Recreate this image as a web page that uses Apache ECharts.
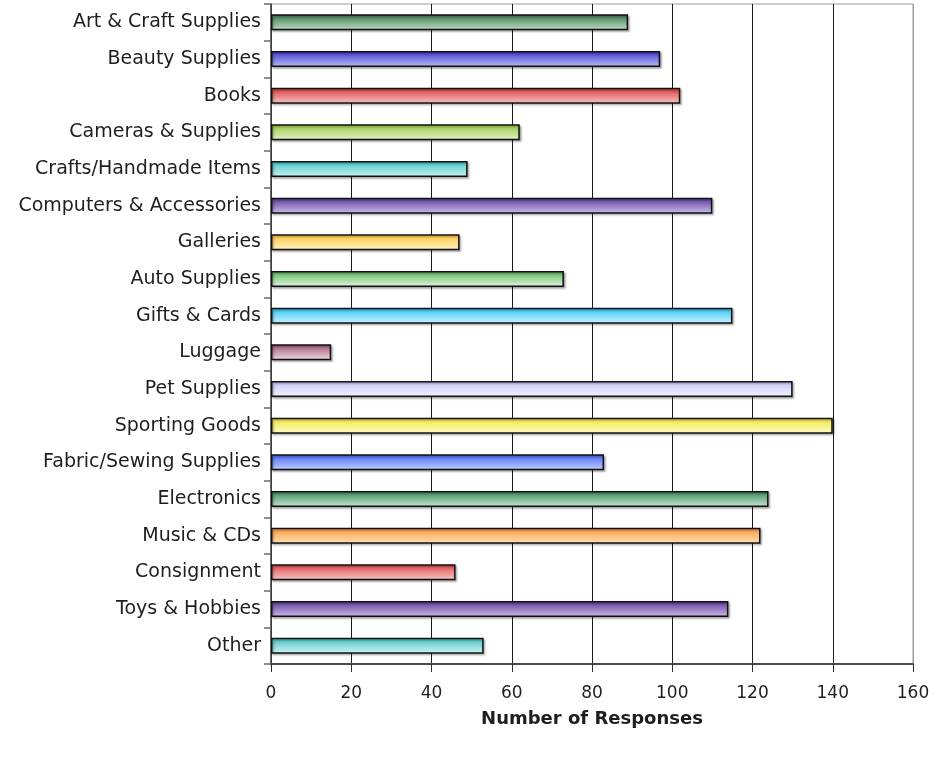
<!DOCTYPE html>
<html>
<head>
<meta charset="utf-8">
<title>Number of Responses by Category</title>
<script src="https://cdn.jsdelivr.net/npm/echarts@6/dist/echarts.min.js"></script>
<style>
  html, body { margin: 0; padding: 0; background: #fff; }
  #chart { width: 949px; height: 759px; }
</style>
</head>
<body>
<div id="chart"></div>
<script>
// Product categories, listed top to bottom
const categories = [
  'Art & Craft Supplies', 'Beauty Supplies', 'Books', 'Cameras & Supplies',
  'Crafts/Handmade Items', 'Computers & Accessories', 'Galleries', 'Auto Supplies',
  'Gifts & Cards', 'Luggage', 'Pet Supplies', 'Sporting Goods',
  'Fabric/Sewing Supplies', 'Electronics', 'Music & CDs', 'Consignment',
  'Toys & Hobbies', 'Other'
];

// Number of responses per category
const responses = [89, 97, 102, 62, 49, 110, 47, 73, 115, 15, 130, 140, 83, 124, 122, 46, 114, 53];

// Value-axis ticks
const axisMin = 0;
const axisMax = 160;
const axisStep = 20;

// Gradient fill per bar: [top colour, bottom colour]
const barGradients = [
  ['#3b7b4b', '#c2ddc9'], ['#3a3ad0', '#bcbcf6'], ['#d93c3c', '#f8c4c4'],
  ['#98cb48', '#e3f2c6'], ['#46c6c6', '#cdf2f2'], ['#5b3c9c', '#cbbde9'],
  ['#ffc93c', '#fff2c6'], ['#5cb95c', '#e2f5e2'], ['#2ec6f6', '#cdf2ff'],
  ['#9e5878', '#f2dce6'], ['#c6c6f6', '#f3f3ff'], ['#f6e63c', '#fffcc6'],
  ['#4868f6', '#c4cfff'], ['#3b8b5b', '#c4e6d0'], ['#ff983a', '#ffe2b4'],
  ['#df4848', '#f9cbcb'], ['#5b3c9c', '#cbbde9'], ['#46bfbf', '#d2f5f5']
];

const fontFamily = '"DejaVu Sans", "Noto Sans", sans-serif';

const barData = responses.map((v, i) => ({
  value: v,
  itemStyle: {
    color: new echarts.graphic.LinearGradient(0, 0, 0, 1, [
      { offset: 0, color: barGradients[i][0] },
      { offset: 1, color: barGradients[i][1] }
    ])
  }
}));

// Split lines: dark for interior grid lines, grey for the outer edge
const splitColors = [];
for (let v = axisMin; v <= axisMax; v += axisStep) {
  splitColors.push(v === axisMax ? '#9a9a9a' : '#1a1a1a');
}

const chart = echarts.init(document.getElementById('chart'), null, { renderer: 'canvas' });

chart.setOption({
  animation: false,
  backgroundColor: '#ffffff',
  grid: {
    left: 271, right: 36, top: 4, bottom: 95,
    show: true, borderColor: '#9a9a9a', borderWidth: 1
  },
  xAxis: {
    type: 'value',
    min: axisMin, max: axisMax, interval: axisStep,
    name: 'Number of Responses',
    nameLocation: 'middle',
    nameGap: 46,
    nameTextStyle: { fontFamily, fontSize: 18, fontWeight: 'bold', color: '#1e1e1e' },
    axisLine: { show: true, lineStyle: { color: '#4a4a4a', width: 2 } },
    axisTick: { show: true, length: 8, lineStyle: { color: '#2a2a2a', width: 1 } },
    axisLabel: { fontFamily, fontSize: 17, color: '#1e1e1e', margin: 21 },
    splitLine: { show: true, lineStyle: { color: splitColors, width: 1 } }
  },
  yAxis: {
    type: 'category',
    data: categories,
    inverse: true,
    axisLine: { show: true, lineStyle: { color: '#4a4a4a', width: 1.5 } },
    axisTick: { show: true, length: 7, lineStyle: { color: '#6a6a6a', width: 1.5 } },
    axisLabel: { fontFamily, fontSize: 19, color: '#1e1e1e', margin: 10 },
    splitLine: { show: false }
  },
  series: [{
    type: 'bar',
    data: barData,
    barWidth: 16,
    itemStyle: {
      borderColor: '#111111',
      borderWidth: 1.5,
      shadowColor: 'rgba(0,0,0,0.3)',
      shadowBlur: 2,
      shadowOffsetX: 1.5,
      shadowOffsetY: 1.5
    }
  }]
});
</script>
</body>
</html>
